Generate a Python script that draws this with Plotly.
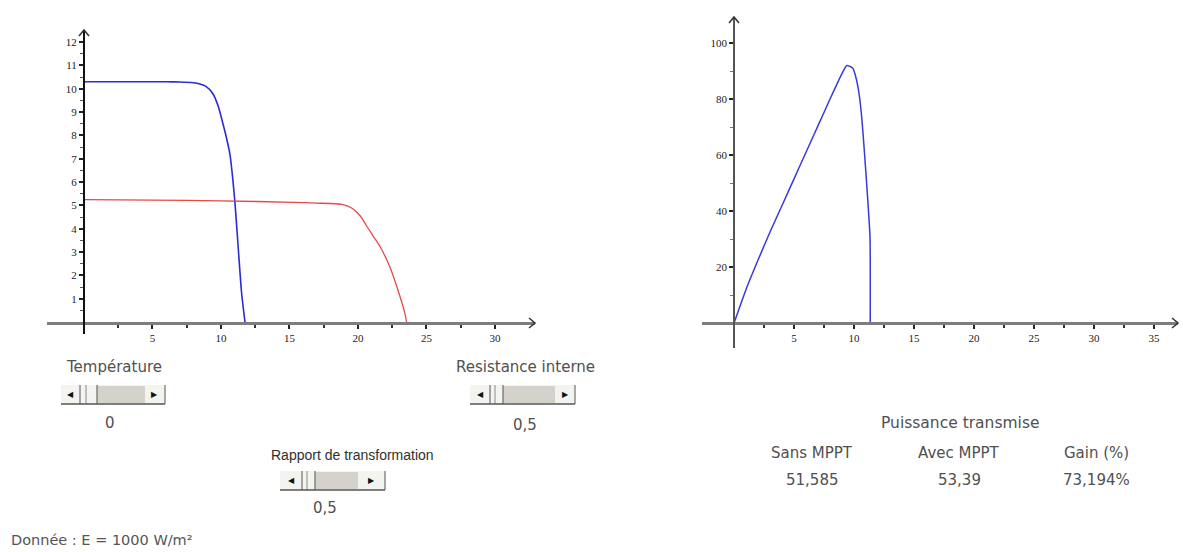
import plotly.graph_objects as go

W, H = 1183, 552

# ---------------- data ----------------
# Left chart: I-V characteristics (x = voltage, y = current)
iv_blue_v = [0, 2, 4, 6, 7, 7.8, 8.4, 8.9, 9.4, 9.8, 10.1, 10.4, 10.65, 11.0, 11.25, 11.5, 11.75]
iv_blue_i = [10.3, 10.3, 10.3, 10.3, 10.29, 10.27, 10.22, 10.1, 9.8, 9.25, 8.6, 7.9, 7.2, 5.25, 3.25, 1.28, 0]

iv_red_v = [0, 5, 10, 15.3, 17, 18.9, 19.5, 19.9, 20.3, 20.6, 21.1, 21.6, 22.3, 22.9, 23.4, 23.55]
iv_red_i = [5.25, 5.23, 5.2, 5.13, 5.1, 5.04, 4.9, 4.72, 4.45, 4.15, 3.7, 3.25, 2.4, 1.4, 0.43, 0]

# Right chart: transmitted power
p_v = [0, 1, 2, 3, 4, 5, 6, 7, 8, 8.7, 9.1, 9.4, 9.9, 10.2, 10.45,
       10.65, 10.85, 11.05, 11.33, 11.35]
p_w = [0, 12, 22.5, 32.5, 42, 51.5, 61, 70.5, 80, 86.5, 90, 92, 91, 87, 81,
       73, 62, 50, 30.7, 0]

# Tick labels
left_x_ticks = [5, 10, 15, 20, 25, 30]
left_y_ticks = [1, 2, 3, 4, 5, 6, 7, 8, 9, 10, 11, 12]
right_x_ticks = [5, 10, 15, 20, 25, 30, 35]
right_y_ticks = [20, 40, 60, 80, 100]

# Texts
slider_labels = ["Température", "Resistance interne", "Rapport de transformation"]
slider_values = ["0", "0,5", "0,5"]
table_title = "Puissance transmise"
table_headers = ["Sans MPPT", "Avec MPPT", "Gain (%)"]
table_values = ["51,585", "53,39", "73,194%"]
note_text = "Donnée : E = 1000 W/m²"


# ---------------- helpers (pixel -> paper) ----------------
def px(x):
    return x / W


def py(y):
    return 1 - y / H


def midpoints(vals, start=0):
    pts = [start] + list(vals)
    return [(a + b) / 2 for a, b in zip(pts[:-1], pts[1:])]


tick_font = dict(family="Liberation Serif", size=11, color="#222222")

fig = go.Figure()
fig.add_trace(go.Scatter(x=iv_blue_v, y=iv_blue_i, mode="lines",
                         line=dict(color="#2b2bd8", width=1.6, shape="spline", smoothing=0.6),
                         xaxis="x", yaxis="y", hoverinfo="skip", showlegend=False))
fig.add_trace(go.Scatter(x=iv_red_v, y=iv_red_i, mode="lines",
                         line=dict(color="#e8474a", width=1.3, shape="spline", smoothing=0.6),
                         xaxis="x", yaxis="y", hoverinfo="skip", showlegend=False))
fig.add_trace(go.Scatter(x=p_v, y=p_w, mode="lines",
                         line=dict(color="#3a3ad6", width=1.5, shape="spline", smoothing=0.5),
                         xaxis="x2", yaxis="y2", hoverinfo="skip", showlegend=False))

common_x = dict(showgrid=False, zeroline=False, showline=True, anchor="free",
                ticks="outside", ticklen=4, tickwidth=2, tickcolor="#222222",
                tickfont=tick_font, fixedrange=True)
common_y = dict(showgrid=False, zeroline=False, showline=True, anchor="free",
                ticks="outside", ticklen=4, tickwidth=1.5, tickcolor="#222222",
                tickfont=tick_font, fixedrange=True, side="left")

fig.update_layout(
    width=W, height=H,
    margin=dict(l=0, r=0, t=0, b=0),
    paper_bgcolor="white", plot_bgcolor="white",
    xaxis=dict(common_x, domain=[px(47), px(535)], range=[-2.70, 32.92],
               position=py(323), linecolor="#7d7d7d", linewidth=3,
               tickvals=left_x_ticks, ticktext=[str(v) for v in left_x_ticks],
               minor=dict(tickvals=midpoints(left_x_ticks), ticks="outside", ticklen=3,
                          tickwidth=2, tickcolor="#333333")),
    yaxis=dict(common_y, domain=[py(334), py(30)], range=[-0.51, 12.52],
               position=px(84), linecolor="#111111", linewidth=2,
               tickvals=left_y_ticks, ticktext=[str(v) for v in left_y_ticks],
               minor=dict(tickvals=midpoints(left_y_ticks), ticks="outside", ticklen=3,
                          tickwidth=1, tickcolor="#555555")),
    xaxis2=dict(common_x, domain=[px(702), px(1178)], range=[-2.67, 37.0],
                position=py(323), linecolor="#7d7d7d", linewidth=3,
                tickvals=right_x_ticks, ticktext=[str(v) for v in right_x_ticks],
                minor=dict(tickvals=midpoints(right_x_ticks), ticks="outside", ticklen=3,
                           tickwidth=2, tickcolor="#333333")),
    yaxis2=dict(common_y, domain=[py(348), py(17)], range=[-8.9, 109.3],
                position=px(734), linecolor="#555555", linewidth=1.5,
                tickvals=right_y_ticks, ticktext=[str(v) for v in right_y_ticks],
                minor=dict(tickvals=midpoints(right_y_ticks), ticks="outside", ticklen=3,
                           tickwidth=1, tickcolor="#777777")),
)

shapes = []
annotations = []


def arrow(xp, yp, path):
    shapes.append(dict(type="path", xref="paper", yref="paper",
                       xsizemode="pixel", ysizemode="pixel",
                       xanchor=px(xp), yanchor=py(yp), path=path,
                       line=dict(color="#333333", width=1.5)))


# axis arrow heads
arrow(535, 323, "M -6,5 L 0,0 L -6,-5")
arrow(84, 30, "M -5,-6 L 0,0 L 5,-6")
arrow(1178, 323, "M -6,5 L 0,0 L -6,-5")
arrow(734, 17, "M -5,-6 L 0,0 L 5,-6")


def rect(x0, x1, y0, y1, fill):
    shapes.append(dict(type="rect", xref="paper", yref="paper",
                       x0=px(x0), x1=px(x1), y0=py(y1), y1=py(y0),
                       fillcolor=fill, line=dict(width=0), layer="above"))


def seg(x0, y0, x1, y1, color, width):
    shapes.append(dict(type="line", xref="paper", yref="paper",
                       x0=px(x0), y0=py(y0), x1=px(x1), y1=py(y1),
                       line=dict(color=color, width=width), layer="above"))


def text(x, y, s, size=15, color="#505050", family="DejaVu Sans", xanchor="center"):
    annotations.append(dict(x=px(x), y=py(y), xref="paper", yref="paper", text=s,
                            showarrow=False, xanchor=xanchor, yanchor="middle",
                            font=dict(family=family, size=size, color=color)))


def scrollbar(x0, x1, y0, y1, lb, mid, th, tr_end):
    rect(x0, x1, y0, y1, "#f3f3ef")
    rect(th, tr_end, y0 + 1, y1 - 1, "#d4d2ca")
    seg(lb, y0, lb, y1, "#555555", 1)
    seg(mid, y0, mid, y1, "#8a8a8a", 1)
    seg(th, y0, th, y1, "#555555", 1)
    seg(x1, y0, x1, y1, "#555555", 1)
    seg(x0, y1, x1, y1, "#555555", 1.5)
    text((x0 + lb) / 2, (y0 + y1) / 2, "◀", size=8, color="#111111")
    text((tr_end + x1) / 2, (y0 + y1) / 2, "▶", size=8, color="#111111")


# Sliders
text(114, 367, slider_labels[0])
scrollbar(61, 165, 385, 404, 80, 86, 97, 145)
text(110, 423, slider_values[0])

text(525, 367, slider_labels[1])
scrollbar(470, 575, 385, 404, 490, 495, 503, 555)
text(525, 425, slider_values[1])

text(352, 455, slider_labels[2], size=14, color="#303030", family="Liberation Sans")
scrollbar(280, 385, 471, 490, 302, 307, 315, 358)
text(325, 508, slider_values[2])

# Table on the right
text(960, 423, table_title, size=15.5)
for cx, hdr, val in zip([812, 959, 1096], table_headers, table_values):
    text(cx, 453, hdr)
    text(cx, 480, val)

# Note
text(9, 540, note_text, size=14.5, color="#555555", xanchor="left")

fig.update_layout(shapes=shapes, annotations=annotations)

fig.write_html("out.html")
